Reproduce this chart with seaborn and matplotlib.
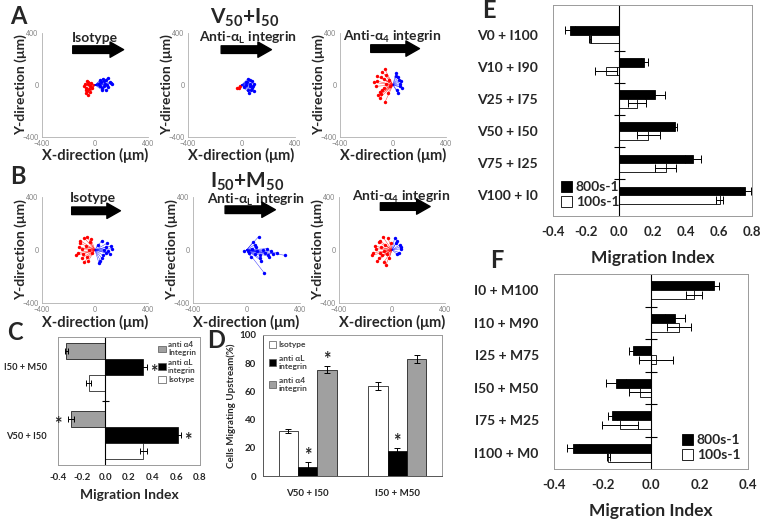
import numpy as np
import pandas as pd
import seaborn as sns
import matplotlib.pyplot as plt
from matplotlib.patches import Patch
from matplotlib.colors import to_hex

# ---------------- data ----------------
# track end points (um) for the six trajectory plots, red = upstream, blue = downstream
a1_red = [(-70, -20), (-60, -45), (-75, 10), (-50, 25), (-40, -10), (-65, -60), (-55, 5), (-45, -30),
          (-30, 15), (-80, -5), (-35, -50), (-60, 30), (-50, -75), (-25, -20), (-70, -35)]
a1_blue = [(30, 10), (50, -20), (70, 30), (90, 0), (110, 20), (60, 50), (80, -35), (40, -5), (100, 55),
           (120, 15), (65, -10), (85, 40), (45, 25), (75, 5), (130, 10), (55, -40), (95, -15), (35, 35)]
a2_red = [(-30, -20), (-15, -25), (-10, -10)]
a2_blue = [(40, 20), (60, -10), (80, 30), (50, 50), (70, -40), (30, 0), (90, 10), (55, -60), (75, -25),
           (45, -35), (85, -5), (65, 40), (35, 25), (95, -45), (20, -15), (60, 5)]
a3_red = [(-120, 30), (-100, -50), (-80, 100), (-60, 120), (-130, -10), (-110, -80), (-90, 60), (-70, -20),
          (-50, 80), (-40, -60), (-140, 20), (-100, -100), (-60, -130), (-30, 40), (-80, -40), (-120, 70),
          (-20, -10), (-50, 10), (-90, -70), (-70, 50)]
a3_blue = [(20, 90), (40, 60), (60, 30), (50, -10), (30, -40), (55, 10), (45, 40), (25, 70), (65, -20), (35, -60)]
b1_red = [(-120, 20), (-100, -60), (-80, 90), (-60, 100), (-130, -20), (-110, 50), (-90, -30), (-70, 30),
          (-50, -80), (-40, 60), (-140, -40), (-100, 10), (-60, -50), (-30, 80), (-20, -20), (-80, -90),
          (-110, 70), (-45, 0)]
b1_blue = [(20, 40), (50, 70), (80, 20), (100, -10), (120, 30), (60, -40), (40, -80), (90, 50), (110, -30),
           (70, 0), (30, -100), (130, 10), (50, -60), (85, -20)]
b2_red = []
b2_blue = [(20, -20), (40, 10), (60, -30), (80, -10), (100, -40), (120, 0), (140, -25), (160, -35), (180, -5),
           (200, -30), (230, -20), (290, -40), (50, 60), (90, 100), (110, -80), (130, -170), (30, -50),
           (70, 20), (150, 10), (10, -5), (-20, -10), (100, -60), (170, -50), (60, 40)]
b3_red = [(-140, -20), (-120, 10), (-100, -60), (-90, 70), (-70, 100), (-60, -90), (-50, 40), (-150, -40),
          (-110, -80), (-80, 20), (-40, -30), (-30, 90), (-20, -60), (-130, 30), (-60, -10), (-100, 60),
          (-45, -110), (-75, -40), (-10, 50), (-90, -20)]
b3_blue = [(20, 90), (40, 70), (60, 40), (70, 10), (55, -20), (35, -30), (30, 50), (65, 25)]

# panel C
c_groups = ['I50 + M50', 'V50 + I50']
c_series = ['anti α4 Integrin', 'anti αL integrin', 'Isotype']
c_a4 = [-0.33, -0.29]
c_a4_err = [0.015, 0.025]
c_aL = [0.32, 0.61]
c_aL_err = [0.035, 0.03]
c_iso = [-0.14, 0.32]
c_iso_err = [0.02, 0.03]
c_stars = [('anti αL integrin', 'I50 + M50'), ('anti α4 Integrin', 'V50 + I50'), ('anti αL integrin', 'V50 + I50')]

# panel D
d_groups = ['V50 + I50', 'I50 + M50']
d_series = ['Isotype', 'anti αL integrin', 'anti α4 integrin']
d_iso = [31.7, 64.0]
d_iso_err = [1.3, 3.0]
d_aL = [6.3, 17.7]
d_aL_err = [3.5, 1.9]
d_a4 = [75.5, 83.0]
d_a4_err = [2.4, 2.8]
d_stars = [('anti αL integrin', 'V50 + I50'), ('anti α4 integrin', 'V50 + I50'), ('anti αL integrin', 'I50 + M50')]

# panel E
e_groups = ['V0 + I100', 'V10 + I90', 'V25 + I75', 'V50 + I50', 'V75 + I25', 'V100 + I0']
e_800 = [-0.30, 0.15, 0.215, 0.337, 0.444, 0.76]
e_800_err = [0.03, 0.02, 0.06, 0.008, 0.046, 0.034]
e_100 = [-0.177, -0.08, 0.105, 0.175, 0.28, 0.605]
e_100_err = [0.006, 0.067, 0.053, 0.07, 0.062, 0.022]

# panel F
f_groups = ['I0 + M100', 'I10 + M90', 'I25 + M75', 'I50 + M50', 'I75 + M25', 'I100 + M0']
f_800 = [0.26, 0.10, -0.076, -0.144, -0.16, -0.32]
f_800_err = [0.022, 0.042, 0.015, 0.042, 0.019, 0.025]
f_100 = [0.177, 0.114, 0.02, -0.045, -0.128, -0.176]
f_100_err = [0.032, 0.05, 0.07, 0.045, 0.073, 0.007]

shear = ['800s-1', '100s-1']

RED = '#ff0000'
BLUE = '#0000ff'
GRAY = '#a0a0a0'
FRAME = '#9a9a9a'

sns.set_style('white')
plt.rcParams['font.family'] = ['Lato', 'DejaVu Sans']
plt.rcParams['font.weight'] = 'bold'
plt.rcParams['axes.labelweight'] = 'bold'
plt.rcParams['mathtext.default'] = 'regular'

W, H = 764, 523
fig = plt.figure(figsize=(W / 100, H / 100), dpi=100)


def px_axes(l, t, r, b):
    return fig.add_axes([l / W, 1 - b / H, (r - l) / W, (b - t) / H])


def track_panel(box, red, blue, label, lab_x, lab_y, arr_x0, arr_x1, arr_y, xlab_y):
    ax = px_axes(*box)
    for pts, col in ((red, RED), (blue, BLUE)):
        if len(pts) == 0:
            continue
        pts = np.array(pts, dtype=float)
        for x, y in pts:
            ax.plot([0, x], [0, y], color=col, lw=0.35, alpha=0.8)
        sns.scatterplot(x=pts[:, 0], y=pts[:, 1], color=col, s=6, linewidth=0, ax=ax)
    ax.set_xlim(-400, 400)
    ax.set_ylim(-400, 400)
    ax.set_xticks([-400, 0, 400])
    ax.set_yticks([-400, 0, 400])
    ax.tick_params(labelsize=5, colors='#808080', length=1.5, width=0.5, pad=1)
    for t in ax.get_xticklabels() + ax.get_yticklabels():
        t.set_fontweight('normal')
    for s in ['top', 'right']:
        ax.spines[s].set_visible(False)
    for s in ['left', 'bottom']:
        ax.spines[s].set_color('#b0b0b0')
        ax.spines[s].set_linewidth(0.6)
    ax.text(lab_x, lab_y, label, transform=ax.transAxes, ha='center', va='center', fontsize=10)
    ax.annotate('', xy=(arr_x1, arr_y), xytext=(arr_x0, arr_y), xycoords='axes fraction',
                arrowprops=dict(arrowstyle='simple,head_length=0.75,head_width=0.85,tail_width=0.42',
                                color='black', mutation_scale=13, shrinkA=0, shrinkB=0))
    ax.text(-0.2, 0.5, 'Y-direction (μm)', transform=ax.transAxes, rotation=90,
            ha='center', va='center', fontsize=10)
    ax.text(0.5, -xlab_y, 'X-direction (μm)', transform=ax.transAxes, ha='center', va='center', fontsize=10.5)
    return ax


iso = 'Isotype'
anti_l = 'Anti-α$_{L}$ integrin'
anti_4 = 'Anti-α$_{4}$ integrin'
track_panel((42, 33, 148, 137), a1_red, a1_blue, iso, 0.5, 0.95, 0.29, 0.77, 0.84, 0.18)
track_panel((188, 33, 295, 137), a2_red, a2_blue, anti_l, 0.56, 0.95, 0.31, 0.78, 0.84, 0.18)
track_panel((340, 33, 446, 137), a3_red, a3_blue, anti_4, 0.49, 0.96, 0.29, 0.75, 0.85, 0.18)
track_panel((42, 197, 148, 303), b1_red, b1_blue, iso, 0.48, 0.99, 0.28, 0.74, 0.87, 0.18)
track_panel((193, 197, 300, 303), b2_red, b2_blue, anti_l, 0.59, 0.97, 0.30, 0.77, 0.88, 0.18)
track_panel((339, 197, 445, 303), b3_red, b3_blue, anti_4, 0.59, 1.0, 0.39, 0.86, 0.91, 0.18)

fig.text(245 / W, 1 - 18 / H, 'V$_{50}$+I$_{50}$', ha='center', va='center', fontsize=15)
fig.text(247 / W, 1 - 182 / H, 'I$_{50}$+M$_{50}$', ha='center', va='center', fontsize=15)


def long_table(groups, series, values):
    rows = []
    for s, vals in zip(series, values):
        for g, v in zip(groups, vals):
            rows.append({'group': g, 'series': s, 'value': v})
    return pd.DataFrame(rows)


def add_errors(ax, groups, series, colors, errs, horizontal, capsize):
    col2s = {to_hex(c): s for s, c in zip(series, colors)}
    lookup = {}
    for s, e in zip(series, errs):
        for g, v in zip(groups, e):
            lookup[(s, g)] = v
    ends = {}
    for bar in ax.patches:
        s = col2s[to_hex(bar.get_facecolor())]
        if horizontal:
            pos = bar.get_y() + bar.get_height() / 2
            end = bar.get_x() + bar.get_width()
        else:
            pos = bar.get_x() + bar.get_width() / 2
            end = bar.get_y() + bar.get_height()
        g = groups[int(round(pos))]
        e = lookup[(s, g)]
        ends[(s, g)] = (pos, end, e)
        if horizontal:
            ax.errorbar(end, pos, xerr=e, fmt='none', ecolor='black', elinewidth=0.7,
                        capsize=capsize, capthick=0.7)
        else:
            ax.errorbar(pos, end, yerr=e, fmt='none', ecolor='black', elinewidth=0.7,
                        capsize=capsize, capthick=0.7)
    return ends


def box_frame(ax):
    for s in ax.spines.values():
        s.set_visible(True)
        s.set_color(FRAME)
        s.set_linewidth(0.7)


# ---------------- panel C ----------------
axc = px_axes(58, 337, 200, 465)
c_colors = [GRAY, '#000000', '#ffffff']
dfc = long_table(c_groups, c_series, [c_a4, c_aL, c_iso])
sns.barplot(data=dfc, x='value', y='group', hue='series', order=c_groups, hue_order=c_series,
            palette=dict(zip(c_series, c_colors)), orient='h', width=0.7, saturation=1,
            edgecolor='black', linewidth=0.5, errorbar=None, legend=False, ax=axc)
ends = add_errors(axc, c_groups, c_series, c_colors, [c_a4_err, c_aL_err, c_iso_err], True, 2)
for key in c_stars:
    pos, end, e = ends[key]
    tip = end + e if end > 0 else end - e
    axc.annotate('*', (tip, pos), xytext=(5 if end > 0 else -7, -4), textcoords='offset points',
                 ha='center', va='center', fontsize=13, zorder=5)
axc.axvline(0, color='black', lw=0.8)
axc.hlines(np.arange(len(c_groups) - 1) + 0.5, -0.03, 0.03, color='black', lw=0.8)
axc.set_xlim(-0.4, 0.8)
axc.set_xticks(np.arange(-0.4, 0.81, 0.2))
axc.set_xticklabels(['%.1f' % v for v in np.arange(-0.4, 0.81, 0.2)])
axc.tick_params(axis='x', labelsize=7, length=0, pad=6)
axc.tick_params(axis='y', labelsize=6.7, length=0, pad=8)
axc.set_ylabel('')
axc.set_xlabel('Migration Index', fontsize=10, labelpad=5)
box_frame(axc)
leg = axc.legend(handles=[Patch(facecolor=c, edgecolor='#555555', lw=0.5) for c in c_colors],
                 labels=['anti α4\nIntegrin', 'anti αL\nintegrin', 'Isotype'],
                 loc='upper right', fontsize=5.8, frameon=False, handlelength=0.9, handleheight=0.9,
                 handletextpad=0.3, labelspacing=0.3, borderaxespad=0.1)
for t in leg.get_texts():
    t.set_color('#404040')

# ---------------- panel D ----------------
axd = px_axes(263, 335, 442, 476)
d_colors = ['#ffffff', '#000000', GRAY]
dfd = long_table(d_groups, d_series, [d_iso, d_aL, d_a4])
sns.barplot(data=dfd, x='group', y='value', hue='series', order=d_groups, hue_order=d_series,
            palette=dict(zip(d_series, d_colors)), width=0.65, saturation=1,
            edgecolor='black', linewidth=0.5, errorbar=None, legend=False, ax=axd)
ends = add_errors(axd, d_groups, d_series, d_colors, [d_iso_err, d_aL_err, d_a4_err], False, 2)
for key in d_stars:
    pos, end, e = ends[key]
    axd.annotate('*', (pos, end + e), xytext=(0, 5), textcoords='offset points',
                 ha='center', va='center', fontsize=13)
axd.set_xlim(-0.5, len(d_groups) - 0.5)
axd.set_ylim(0, 100)
axd.set_yticks(np.arange(0, 101, 20))
axd.set_xticks(np.arange(len(d_groups) + 1) - 0.5, minor=True)
axd.tick_params(axis='x', which='major', length=0, labelsize=7, pad=9)
axd.tick_params(axis='x', which='minor', length=4, width=0.8, direction='out', color='#555555')
axd.tick_params(axis='y', labelsize=7, length=3, width=0.8, direction='out', color='#555555', pad=2)
axd.set_xlabel('')
axd.set_ylabel('Cells Migrating Upstream(%)', fontsize=7, labelpad=2)
box_frame(axd)
axd.spines['bottom'].set_color('#555555')
axd.spines['left'].set_color('#555555')
leg = axd.legend(handles=[Patch(facecolor=c, edgecolor='#555555', lw=0.5) for c in d_colors],
                 labels=['Isotype', 'anti αL\nintegrin', 'anti α4\nintegrin'],
                 loc='upper left', fontsize=6, frameon=False, handlelength=0.9, handleheight=0.9,
                 handletextpad=0.3, labelspacing=0.8, borderaxespad=0.3)
for t in leg.get_texts():
    t.set_color('#404040')


# ---------------- panels E and F ----------------
def shear_panel(box, groups, v800, e800, v100, e100, xmax, ylim, tick, legend_loc):
    ax = px_axes(*box)
    colors = ['#000000', '#ffffff']
    df = long_table(groups, shear, [v800, v100])
    sns.barplot(data=df, x='value', y='group', hue='series', order=groups, hue_order=shear,
                palette=dict(zip(shear, colors)), orient='h', width=0.54, saturation=1,
                edgecolor='black', linewidth=0.6, errorbar=None, legend=False, ax=ax)
    add_errors(ax, groups, shear, colors, [e800, e100], True, 3)
    ax.axvline(0, color='black', lw=0.8)
    ax.hlines(np.arange(len(groups) - 1) + 0.5, -tick, tick, color='black', lw=0.8)
    ax.set_xlim(-0.4, xmax)
    xt = np.arange(-0.4, xmax + 0.01, 0.2)
    ax.set_xticks(xt)
    ax.set_xticklabels(['%.1f' % v for v in xt])
    ax.set_ylim(*ylim)
    ax.tick_params(axis='x', labelsize=9.5, length=0, pad=7)
    ax.tick_params(axis='y', labelsize=10, length=0, pad=11)
    ax.set_ylabel('')
    ax.set_xlabel('Migration Index', fontsize=12.5, labelpad=9)
    box_frame(ax)
    ax.legend(handles=[Patch(facecolor=c, edgecolor='black', lw=0.6) for c in colors], labels=shear,
              loc=legend_loc, fontsize=10, frameon=False, handlelength=0.85, handleheight=0.85,
              handletextpad=0.25, labelspacing=0.2, borderaxespad=0.15)
    return ax


shear_panel((553, 5, 752, 216), e_groups, e_800, e_800_err, e_100, e_100_err, 0.8, (5.64, -0.92), 0.035,
            'lower left')
shear_panel((554, 274, 748, 469), f_groups, f_800, f_800_err, f_100, f_100_err, 0.4, (5.5, -0.5), 0.025,
            'lower right')

# panel letters
for letter, x, y in [('A', 18, 16), ('B', 18, 176), ('C', 15, 333), ('D', 216, 340), ('E', 489, 11),
                     ('F', 497, 261)]:
    fig.text(x / W, 1 - y / H, letter, ha='center', va='center', fontsize=17)

fig.savefig('out.png', dpi=100)
